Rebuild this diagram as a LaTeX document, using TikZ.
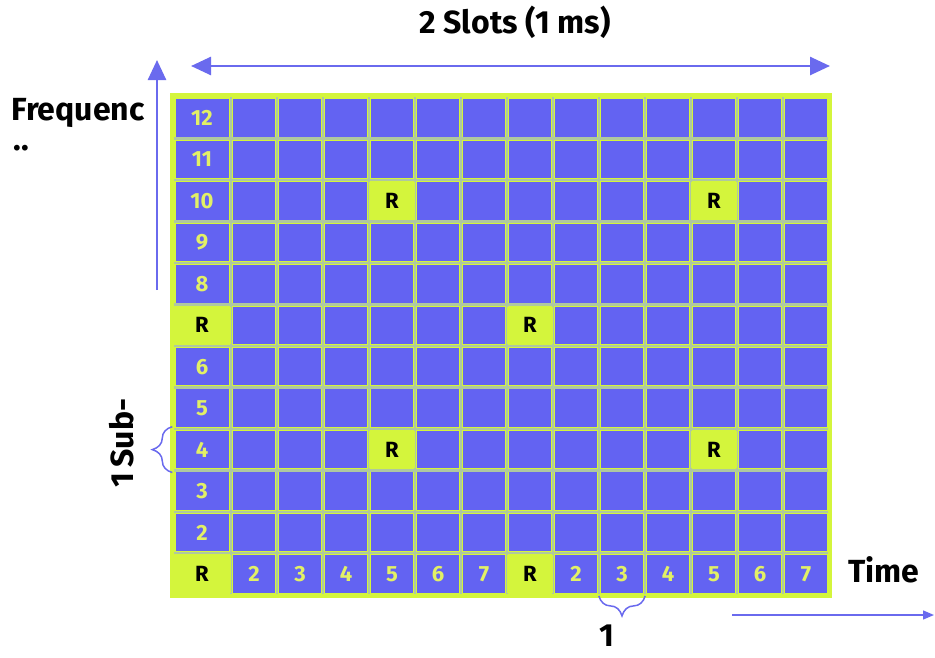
\documentclass[tikz,border=0pt]{standalone}
\usepackage{fontspec}
\setmainfont{Fira Sans}
\usetikzlibrary{arrows.meta, positioning, decorations.pathreplacing, calc}

\definecolor{cellblue}{HTML}{6363F2}
\definecolor{lime}{HTML}{D4F53C}
\definecolor{gapgreen}{HTML}{AFC8A0}
\definecolor{arrowblue}{HTML}{6A6AEE}
\definecolor{numyellow}{HTML}{E2F066}

\begin{document}
\begin{tikzpicture}[
    x=1pt, y=-1pt,
    cell/.style={fill=cellblue, inner sep=0pt, minimum height=37.5pt},
    rcell/.style={fill=lime, inner sep=0pt, minimum height=37.5pt,
                  font=\fontsize{22}{22}\selectfont\bfseries, text=black},
    num/.style={font=\fontsize{22}{22}\selectfont\bfseries, text=numyellow},
    lbl/.style={font=\fontsize{32}{32}\selectfont\bfseries, text=black},
    arr/.style={-{Triangle[length=20pt, width=18pt]}, draw=arrowblue, line width=2.6pt},
    thinarr/.style={-{Triangle[length=11pt, width=9pt]}, draw=arrowblue, line width=1.4pt},
    brc/.style={draw=arrowblue, line width=1.5pt, decorate,
                decoration={brace, amplitude=20pt}},
]
\useasboundingbox (0,0) rectangle (935,657);

% ---- frame and gaps ----
\fill[lime] (170,93) rectangle (832,598);
\foreach \g in {0,...,12}
    \draw[gapgreen, line width=2.5pt] (231+\g*46,97) -- (231+\g*46,594);
\foreach \r in {1,...,11}
    \draw[gapgreen, line width=2.5pt] (174,{118+(\r-0.5)*41.45}) -- (828,{118+(\r-0.5)*41.45});

% ---- cells: row 1 on top, column 1 on the left ----
\foreach \r in {1,...,12}
  \foreach \c in {1,...,14} {
    \pgfmathsetmacro\cx{\c==1 ? 202 : 254+(\c-2)*46}
    \pgfmathsetmacro\cw{\c==1 ? 53 : 42}
    \pgfmathsetmacro\cy{118+(\r-1)*41.45}
    \node[cell, minimum width=\cw pt] (c-\r-\c) at (\cx,\cy) {};
  }

% ---- reference symbols ----
\foreach \r/\c in {3/5, 3/12, 6/1, 6/8, 9/5, 9/12, 12/1, 12/8} {
    \pgfmathsetmacro\rw{\c==1 ? 57 : 46}
    \node[rcell, minimum width=\rw pt] at (c-\r-\c) {R};
}

% ---- subcarrier numbers ----
\foreach \r/\n in {1/12, 2/11, 3/10, 4/9, 5/8, 7/6, 8/5, 9/4, 10/3, 11/2}
    \node[num] at (c-\r-1) {\n};
% ---- symbol numbers ----
\foreach \c/\n in {2/2, 3/3, 4/4, 5/5, 6/6, 7/7, 9/2, 10/3, 11/4, 12/5, 13/6, 14/7}
    \node[num] at (c-12-\c) {\n};

% ---- axes ----
\coordinate (fbot) at (157,290);
\coordinate (ftop) at (157,60);
\draw[arr] (fbot) -- (ftop);
\coordinate (sl) at (191,66);
\coordinate (sr) at (830,66);
\draw[arr, {Triangle[length=20pt, width=18pt]}-{Triangle[length=20pt, width=18pt]}] (sl) -- (sr);
\coordinate (tl) at (732,615);
\coordinate (tr) at (934,615);
\draw[thinarr] (tl) -- (tr);

% ---- braces ----
\draw[brc] ($(c-9-1.south west)+(-3,4)$) -- ($(c-9-1.north west)+(-3,-4)$);
\draw[brc] ($(c-12-10.south east)+(2,3)$) -- ($(c-12-10.south west)+(-2,3)$);

% ---- labels ----
\node[lbl] (slots) at (515,22) {2 Slots (1 ms)};
\node[lbl, anchor=west] (freq) at (8,113) {Frequenc};
\node[lbl, anchor=west] (dots) at (10,148) {..};
\node[lbl, rotate=90] (sub) at (122,443) {1\,Sub-};
\node[lbl, inner sep=1pt] (one) at (607,636) {1};
\node[lbl] (time) at (884,570) {Time};
\end{tikzpicture}
\end{document}
